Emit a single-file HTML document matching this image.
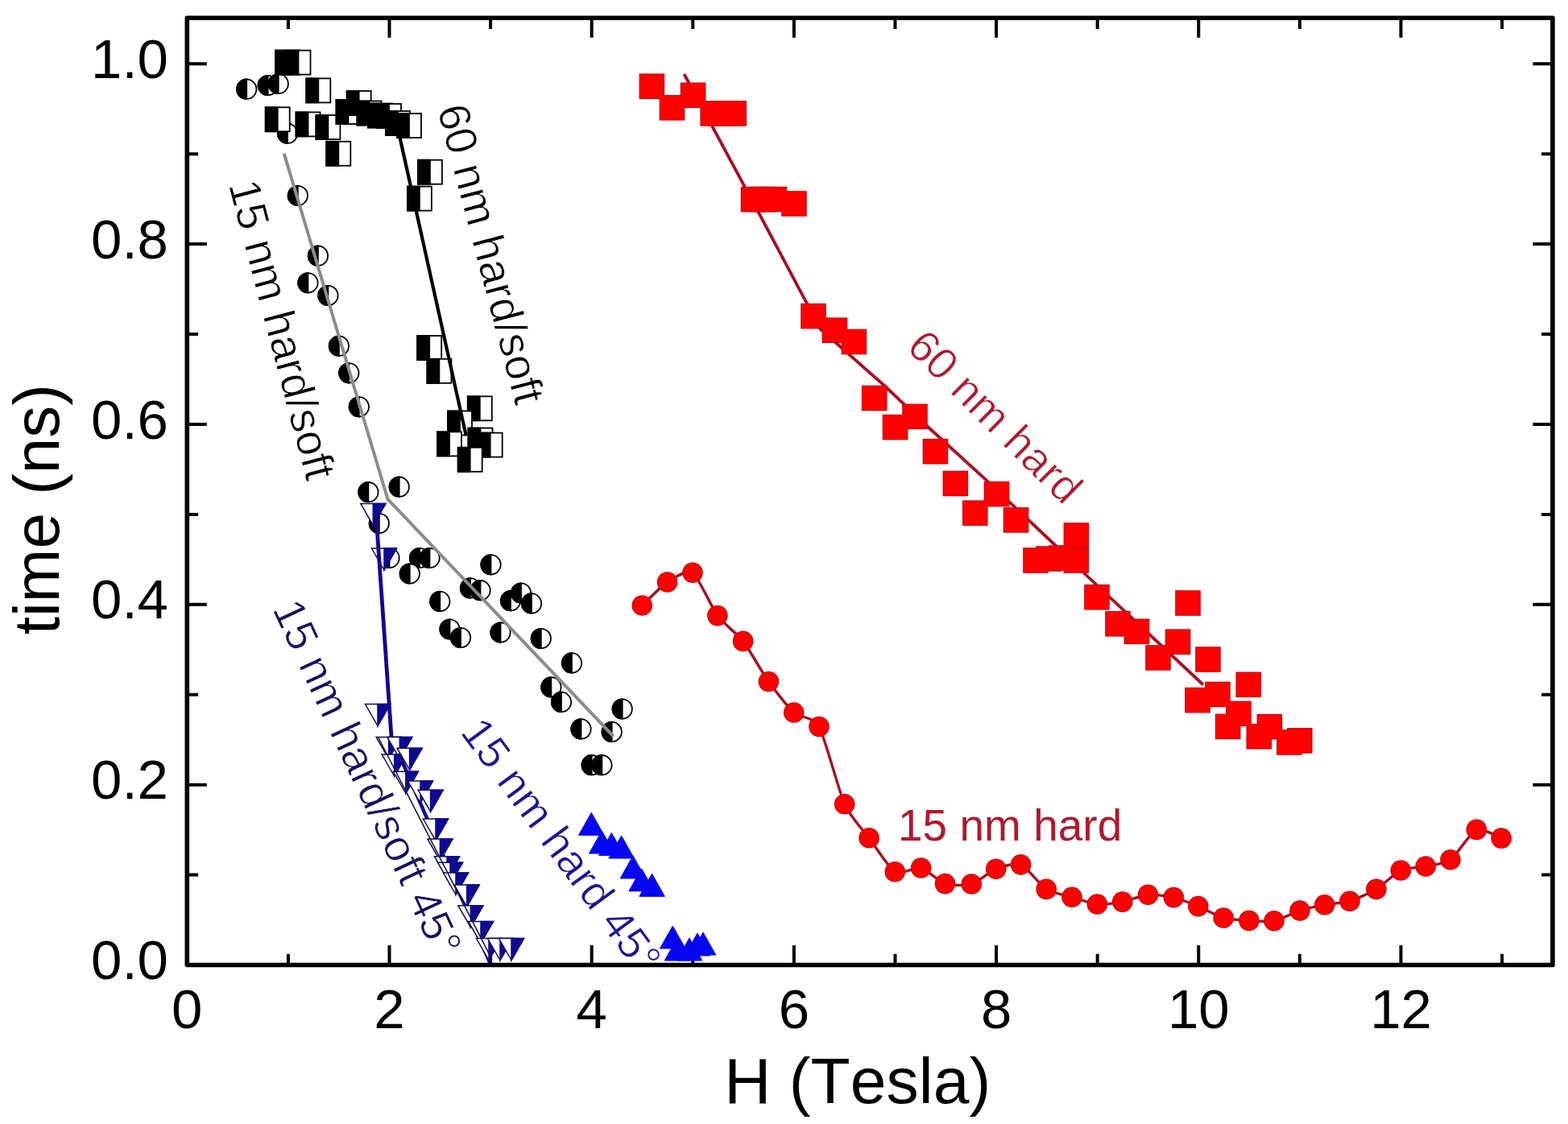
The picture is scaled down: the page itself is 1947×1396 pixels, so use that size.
<!DOCTYPE html><html><head><meta charset="utf-8"><title>time vs H</title><style>html,body{margin:0;padding:0;background:#fff;overflow:hidden}svg{display:block}text{font-kerning:none}</style></head><body>
<svg width="1947" height="1396" viewBox="0 0 1947 1396" font-family="Liberation Sans, Arial, sans-serif">
<rect width="1947" height="1396" fill="#fff"/>
<rect x="232.3" y="22.2" width="1695.6" height="1176.3" fill="none" stroke="#000" stroke-width="5.6" stroke-linejoin="round"/>
<path d="M357.9,1198.5v-13.8 M357.9,22.2v13.8 M483.5,1198.5v-24.5 M483.5,22.2v24.5 M609.1,1198.5v-13.8 M609.1,22.2v13.8 M734.7,1198.5v-24.5 M734.7,22.2v24.5 M860.3,1198.5v-13.8 M860.3,22.2v13.8 M985.9,1198.5v-24.5 M985.9,22.2v24.5 M1111.5,1198.5v-13.8 M1111.5,22.2v13.8 M1237.1,1198.5v-24.5 M1237.1,22.2v24.5 M1362.7,1198.5v-13.8 M1362.7,22.2v13.8 M1488.3,1198.5v-24.5 M1488.3,22.2v24.5 M1613.9,1198.5v-13.8 M1613.9,22.2v13.8 M1739.5,1198.5v-24.5 M1739.5,22.2v24.5 M1865.1,1198.5v-13.8 M1865.1,22.2v13.8 M232.3,1086.6h13.8 M1927.9,1086.6h-13.8 M232.3,974.7h24.5 M1927.9,974.7h-24.5 M232.3,862.7h13.8 M1927.9,862.7h-13.8 M232.3,750.8h24.5 M1927.9,750.8h-24.5 M232.3,638.9h13.8 M1927.9,638.9h-13.8 M232.3,527.0h24.5 M1927.9,527.0h-24.5 M232.3,415.1h13.8 M1927.9,415.1h-13.8 M232.3,303.1h24.5 M1927.9,303.1h-24.5 M232.3,191.2h13.8 M1927.9,191.2h-13.8 M232.3,79.3h24.5 M1927.9,79.3h-24.5" stroke="#000" stroke-width="4" fill="none"/>
<path d="M849.5,92.0 L943.3,266.5 L1001.0,375.2 L1019.0,409.0 L1055.3,441.1 L1098.2,479.0 L1152.0,530.0 L1224.5,596.2 L1309.6,676.5 L1350.0,715.5 L1494.0,850.5" fill="none" stroke="#a51025" stroke-width="3.8" stroke-linejoin="round"/>
<g fill="#c8000c">
<rect x="793.6" y="91.4" width="31.6" height="31.6"/>
<rect x="818.7" y="118.0" width="31.6" height="31.6"/>
<rect x="844.8" y="102.5" width="31.6" height="31.6"/>
<rect x="869.4" y="125.1" width="31.6" height="31.6"/>
<rect x="882.2" y="125.1" width="31.6" height="31.6"/>
<rect x="895.5" y="125.1" width="31.6" height="31.6"/>
<rect x="919.7" y="231.8" width="31.6" height="31.6"/>
<rect x="932.2" y="231.8" width="31.6" height="31.6"/>
<rect x="945.6" y="231.8" width="31.6" height="31.6"/>
<rect x="970.2" y="237.2" width="31.6" height="31.6"/>
<rect x="994.2" y="376.8" width="31.6" height="31.6"/>
<rect x="1020.6" y="394.4" width="31.6" height="31.6"/>
<rect x="1044.6" y="408.7" width="31.6" height="31.6"/>
<rect x="1069.9" y="478.7" width="31.6" height="31.6"/>
<rect x="1120.2" y="501.6" width="31.6" height="31.6"/>
<rect x="1095.8" y="514.8" width="31.6" height="31.6"/>
<rect x="1145.7" y="544.9" width="31.6" height="31.6"/>
<rect x="1170.6" y="584.7" width="31.6" height="31.6"/>
<rect x="1221.8" y="597.8" width="31.6" height="31.6"/>
<rect x="1195.0" y="621.4" width="31.6" height="31.6"/>
<rect x="1245.8" y="630.1" width="31.6" height="31.6"/>
<rect x="1320.6" y="649.2" width="31.6" height="31.6"/>
<rect x="1270.2" y="680.2" width="31.6" height="31.6"/>
<rect x="1286.2" y="678.2" width="31.6" height="31.6"/>
<rect x="1302.2" y="677.2" width="31.6" height="31.6"/>
<rect x="1320.5" y="680.2" width="31.6" height="31.6"/>
<rect x="1346.2" y="725.9" width="31.6" height="31.6"/>
<rect x="1459.2" y="733.2" width="31.6" height="31.6"/>
<rect x="1372.2" y="759.0" width="31.6" height="31.6"/>
<rect x="1395.7" y="768.5" width="31.6" height="31.6"/>
<rect x="1446.8" y="781.4" width="31.6" height="31.6"/>
<rect x="1422.2" y="801.1" width="31.6" height="31.6"/>
<rect x="1484.2" y="803.2" width="31.6" height="31.6"/>
<rect x="1534.5" y="834.5" width="31.6" height="31.6"/>
<rect x="1471.2" y="853.8" width="31.6" height="31.6"/>
<rect x="1496.2" y="846.7" width="31.6" height="31.6"/>
<rect x="1522.2" y="870.6" width="31.6" height="31.6"/>
<rect x="1508.9" y="886.6" width="31.6" height="31.6"/>
<rect x="1560.6" y="886.8" width="31.6" height="31.6"/>
<rect x="1547.5" y="898.9" width="31.6" height="31.6"/>
<rect x="1585.1" y="906.2" width="31.6" height="31.6"/>
<rect x="1598.0" y="904.1" width="31.6" height="31.6"/>
</g><g fill="#ff0000">
<rect x="794.7" y="92.5" width="29.4" height="29.4"/>
<rect x="819.8" y="119.1" width="29.4" height="29.4"/>
<rect x="845.9" y="103.6" width="29.4" height="29.4"/>
<rect x="870.5" y="126.2" width="29.4" height="29.4"/>
<rect x="883.3" y="126.2" width="29.4" height="29.4"/>
<rect x="896.6" y="126.2" width="29.4" height="29.4"/>
<rect x="920.8" y="232.9" width="29.4" height="29.4"/>
<rect x="933.3" y="232.9" width="29.4" height="29.4"/>
<rect x="946.7" y="232.9" width="29.4" height="29.4"/>
<rect x="971.3" y="238.3" width="29.4" height="29.4"/>
<rect x="995.3" y="377.9" width="29.4" height="29.4"/>
<rect x="1021.7" y="395.5" width="29.4" height="29.4"/>
<rect x="1045.7" y="409.8" width="29.4" height="29.4"/>
<rect x="1071.0" y="479.8" width="29.4" height="29.4"/>
<rect x="1121.3" y="502.7" width="29.4" height="29.4"/>
<rect x="1096.9" y="515.9" width="29.4" height="29.4"/>
<rect x="1146.8" y="546.0" width="29.4" height="29.4"/>
<rect x="1171.7" y="585.8" width="29.4" height="29.4"/>
<rect x="1222.9" y="598.9" width="29.4" height="29.4"/>
<rect x="1196.1" y="622.5" width="29.4" height="29.4"/>
<rect x="1246.9" y="631.2" width="29.4" height="29.4"/>
<rect x="1321.7" y="650.3" width="29.4" height="29.4"/>
<rect x="1271.3" y="681.3" width="29.4" height="29.4"/>
<rect x="1287.3" y="679.3" width="29.4" height="29.4"/>
<rect x="1303.3" y="678.3" width="29.4" height="29.4"/>
<rect x="1321.6" y="681.3" width="29.4" height="29.4"/>
<rect x="1347.3" y="727.0" width="29.4" height="29.4"/>
<rect x="1460.3" y="734.3" width="29.4" height="29.4"/>
<rect x="1373.3" y="760.1" width="29.4" height="29.4"/>
<rect x="1396.8" y="769.6" width="29.4" height="29.4"/>
<rect x="1447.9" y="782.5" width="29.4" height="29.4"/>
<rect x="1423.3" y="802.2" width="29.4" height="29.4"/>
<rect x="1485.3" y="804.3" width="29.4" height="29.4"/>
<rect x="1535.6" y="835.6" width="29.4" height="29.4"/>
<rect x="1472.3" y="854.9" width="29.4" height="29.4"/>
<rect x="1497.3" y="847.8" width="29.4" height="29.4"/>
<rect x="1523.3" y="871.7" width="29.4" height="29.4"/>
<rect x="1510.0" y="887.7" width="29.4" height="29.4"/>
<rect x="1561.7" y="887.9" width="29.4" height="29.4"/>
<rect x="1548.6" y="900.0" width="29.4" height="29.4"/>
<rect x="1586.2" y="907.3" width="29.4" height="29.4"/>
<rect x="1599.1" y="905.2" width="29.4" height="29.4"/>
</g>
<path d="M797.3,752.0 C800.8,748.8 821.6,727.5 828.6,723.0 C835.6,718.5 853.1,706.7 860.0,711.3 C866.9,715.9 883.9,755.1 890.9,764.6 C897.9,774.1 915.5,787.3 922.6,796.4 C929.7,805.5 947.4,836.7 954.4,846.5 C961.4,856.3 978.7,878.8 985.7,885.0 C992.7,891.2 1010.0,889.9 1017.0,902.5 C1024.0,915.1 1041.8,983.3 1048.7,998.7 C1055.6,1014.1 1072.1,1031.5 1079.1,1040.8 C1086.1,1050.1 1104.1,1078.7 1111.3,1082.8 C1118.5,1086.9 1136.7,1076.4 1143.6,1078.0 C1150.5,1079.6 1166.5,1095.4 1173.5,1097.6 C1180.5,1099.8 1199.3,1100.0 1206.3,1098.0 C1213.3,1096.0 1229.9,1081.9 1236.7,1079.2 C1243.5,1076.5 1260.7,1071.1 1267.6,1073.9 C1274.5,1076.7 1292.2,1099.9 1299.2,1104.4 C1306.2,1108.9 1324.0,1112.1 1331.0,1114.2 C1338.0,1116.3 1355.4,1122.3 1362.4,1123.0 C1369.4,1123.7 1386.7,1121.4 1393.7,1120.1 C1400.7,1118.8 1418.4,1111.8 1425.5,1111.2 C1432.6,1110.6 1450.4,1113.0 1457.3,1114.6 C1464.2,1116.2 1480.9,1122.8 1487.8,1125.6 C1494.7,1128.4 1512.2,1138.0 1519.2,1140.0 C1526.2,1142.0 1543.9,1143.0 1550.9,1143.4 C1557.9,1143.8 1575.0,1145.1 1582.0,1143.7 C1589.0,1142.3 1607.0,1133.2 1614.0,1131.0 C1621.0,1128.8 1637.9,1125.0 1644.8,1123.7 C1651.7,1122.4 1668.9,1121.3 1676.0,1119.2 C1683.1,1117.1 1701.9,1108.6 1708.9,1104.4 C1715.9,1100.2 1732.5,1084.2 1739.3,1081.0 C1746.1,1077.8 1763.3,1077.5 1770.2,1076.0 C1777.1,1074.5 1794.0,1072.9 1801.0,1067.8 C1808.0,1062.7 1826.4,1033.4 1833.4,1030.4 C1840.4,1027.4 1860.8,1039.9 1864.2,1041.1" fill="none" stroke="#a51025" stroke-width="3.4"/>
<g fill="#c8000c">
<circle cx="797.3" cy="752.0" r="12.8"/>
<circle cx="828.6" cy="723.0" r="12.8"/>
<circle cx="860.0" cy="711.3" r="12.8"/>
<circle cx="890.9" cy="764.6" r="12.8"/>
<circle cx="922.6" cy="796.4" r="12.8"/>
<circle cx="954.4" cy="846.5" r="12.8"/>
<circle cx="985.7" cy="885.0" r="12.8"/>
<circle cx="1017.0" cy="902.5" r="12.8"/>
<circle cx="1048.7" cy="998.7" r="12.8"/>
<circle cx="1079.1" cy="1040.8" r="12.8"/>
<circle cx="1111.3" cy="1082.8" r="12.8"/>
<circle cx="1143.6" cy="1078.0" r="12.8"/>
<circle cx="1173.5" cy="1097.6" r="12.8"/>
<circle cx="1206.3" cy="1098.0" r="12.8"/>
<circle cx="1236.7" cy="1079.2" r="12.8"/>
<circle cx="1267.6" cy="1073.9" r="12.8"/>
<circle cx="1299.2" cy="1104.4" r="12.8"/>
<circle cx="1331.0" cy="1114.2" r="12.8"/>
<circle cx="1362.4" cy="1123.0" r="12.8"/>
<circle cx="1393.7" cy="1120.1" r="12.8"/>
<circle cx="1425.5" cy="1111.2" r="12.8"/>
<circle cx="1457.3" cy="1114.6" r="12.8"/>
<circle cx="1487.8" cy="1125.6" r="12.8"/>
<circle cx="1519.2" cy="1140.0" r="12.8"/>
<circle cx="1550.9" cy="1143.4" r="12.8"/>
<circle cx="1582.0" cy="1143.7" r="12.8"/>
<circle cx="1614.0" cy="1131.0" r="12.8"/>
<circle cx="1644.8" cy="1123.7" r="12.8"/>
<circle cx="1676.0" cy="1119.2" r="12.8"/>
<circle cx="1708.9" cy="1104.4" r="12.8"/>
<circle cx="1739.3" cy="1081.0" r="12.8"/>
<circle cx="1770.2" cy="1076.0" r="12.8"/>
<circle cx="1801.0" cy="1067.8" r="12.8"/>
<circle cx="1833.4" cy="1030.4" r="12.8"/>
<circle cx="1864.2" cy="1041.1" r="12.8"/>
</g><g fill="#ff0000">
<circle cx="797.3" cy="752.0" r="11.7"/>
<circle cx="828.6" cy="723.0" r="11.7"/>
<circle cx="860.0" cy="711.3" r="11.7"/>
<circle cx="890.9" cy="764.6" r="11.7"/>
<circle cx="922.6" cy="796.4" r="11.7"/>
<circle cx="954.4" cy="846.5" r="11.7"/>
<circle cx="985.7" cy="885.0" r="11.7"/>
<circle cx="1017.0" cy="902.5" r="11.7"/>
<circle cx="1048.7" cy="998.7" r="11.7"/>
<circle cx="1079.1" cy="1040.8" r="11.7"/>
<circle cx="1111.3" cy="1082.8" r="11.7"/>
<circle cx="1143.6" cy="1078.0" r="11.7"/>
<circle cx="1173.5" cy="1097.6" r="11.7"/>
<circle cx="1206.3" cy="1098.0" r="11.7"/>
<circle cx="1236.7" cy="1079.2" r="11.7"/>
<circle cx="1267.6" cy="1073.9" r="11.7"/>
<circle cx="1299.2" cy="1104.4" r="11.7"/>
<circle cx="1331.0" cy="1114.2" r="11.7"/>
<circle cx="1362.4" cy="1123.0" r="11.7"/>
<circle cx="1393.7" cy="1120.1" r="11.7"/>
<circle cx="1425.5" cy="1111.2" r="11.7"/>
<circle cx="1457.3" cy="1114.6" r="11.7"/>
<circle cx="1487.8" cy="1125.6" r="11.7"/>
<circle cx="1519.2" cy="1140.0" r="11.7"/>
<circle cx="1550.9" cy="1143.4" r="11.7"/>
<circle cx="1582.0" cy="1143.7" r="11.7"/>
<circle cx="1614.0" cy="1131.0" r="11.7"/>
<circle cx="1644.8" cy="1123.7" r="11.7"/>
<circle cx="1676.0" cy="1119.2" r="11.7"/>
<circle cx="1708.9" cy="1104.4" r="11.7"/>
<circle cx="1739.3" cy="1081.0" r="11.7"/>
<circle cx="1770.2" cy="1076.0" r="11.7"/>
<circle cx="1801.0" cy="1067.8" r="11.7"/>
<circle cx="1833.4" cy="1030.4" r="11.7"/>
<circle cx="1864.2" cy="1041.1" r="11.7"/>
</g>
<g stroke="#000" stroke-width="1.8">
<circle cx="306.2" cy="110.7" r="12.2" fill="#fff"/><path d="M306.2,98.5 A12.2,12.2 0 0 0 306.2,122.9 Z" fill="#000"/>
<circle cx="332.7" cy="106.0" r="12.2" fill="#fff"/><path d="M332.7,93.8 A12.2,12.2 0 0 0 332.7,118.2 Z" fill="#000"/>
<circle cx="345.7" cy="104.0" r="12.2" fill="#fff"/><path d="M345.7,91.8 A12.2,12.2 0 0 0 345.7,116.2 Z" fill="#000"/>
<circle cx="357.0" cy="165.7" r="12.2" fill="#fff"/><path d="M357.0,153.5 A12.2,12.2 0 0 0 357.0,177.9 Z" fill="#000"/>
<circle cx="369.8" cy="243.0" r="12.2" fill="#fff"/><path d="M369.8,230.8 A12.2,12.2 0 0 0 369.8,255.2 Z" fill="#000"/>
<circle cx="394.9" cy="317.7" r="12.2" fill="#fff"/><path d="M394.9,305.5 A12.2,12.2 0 0 0 394.9,329.9 Z" fill="#000"/>
<circle cx="382.4" cy="351.3" r="12.2" fill="#fff"/><path d="M382.4,339.1 A12.2,12.2 0 0 0 382.4,363.5 Z" fill="#000"/>
<circle cx="407.4" cy="367.0" r="12.2" fill="#fff"/><path d="M407.4,354.8 A12.2,12.2 0 0 0 407.4,379.2 Z" fill="#000"/>
<circle cx="420.9" cy="429.7" r="12.2" fill="#fff"/><path d="M420.9,417.5 A12.2,12.2 0 0 0 420.9,441.9 Z" fill="#000"/>
<circle cx="433.3" cy="463.3" r="12.2" fill="#fff"/><path d="M433.3,451.1 A12.2,12.2 0 0 0 433.3,475.5 Z" fill="#000"/>
<circle cx="445.8" cy="505.3" r="12.2" fill="#fff"/><path d="M445.8,493.1 A12.2,12.2 0 0 0 445.8,517.5 Z" fill="#000"/>
<circle cx="457.4" cy="611.2" r="12.2" fill="#fff"/><path d="M457.4,599.0 A12.2,12.2 0 0 0 457.4,623.4 Z" fill="#000"/>
<circle cx="495.7" cy="604.7" r="12.2" fill="#fff"/><path d="M495.7,592.5 A12.2,12.2 0 0 0 495.7,616.9 Z" fill="#000"/>
<circle cx="470.8" cy="650.0" r="12.2" fill="#fff"/><path d="M470.8,637.8 A12.2,12.2 0 0 0 470.8,662.2 Z" fill="#000"/>
<circle cx="483.5" cy="693.0" r="12.2" fill="#fff"/><path d="M483.5,680.8 A12.2,12.2 0 0 0 483.5,705.2 Z" fill="#000"/>
<circle cx="521.0" cy="693.0" r="12.2" fill="#fff"/><path d="M521.0,680.8 A12.2,12.2 0 0 0 521.0,705.2 Z" fill="#000"/>
<circle cx="533.5" cy="693.0" r="12.2" fill="#fff"/><path d="M533.5,680.8 A12.2,12.2 0 0 0 533.5,705.2 Z" fill="#000"/>
<circle cx="508.8" cy="712.5" r="12.2" fill="#fff"/><path d="M508.8,700.3 A12.2,12.2 0 0 0 508.8,724.7 Z" fill="#000"/>
<circle cx="609.5" cy="701.3" r="12.2" fill="#fff"/><path d="M609.5,689.1 A12.2,12.2 0 0 0 609.5,713.5 Z" fill="#000"/>
<circle cx="584.0" cy="730.4" r="12.2" fill="#fff"/><path d="M584.0,718.2 A12.2,12.2 0 0 0 584.0,742.6 Z" fill="#000"/>
<circle cx="596.5" cy="733.2" r="12.2" fill="#fff"/><path d="M596.5,721.0 A12.2,12.2 0 0 0 596.5,745.4 Z" fill="#000"/>
<circle cx="546.3" cy="746.9" r="12.2" fill="#fff"/><path d="M546.3,734.7 A12.2,12.2 0 0 0 546.3,759.1 Z" fill="#000"/>
<circle cx="634.0" cy="746.2" r="12.2" fill="#fff"/><path d="M634.0,734.0 A12.2,12.2 0 0 0 634.0,758.4 Z" fill="#000"/>
<circle cx="647.0" cy="736.5" r="12.2" fill="#fff"/><path d="M647.0,724.3 A12.2,12.2 0 0 0 647.0,748.7 Z" fill="#000"/>
<circle cx="660.0" cy="749.4" r="12.2" fill="#fff"/><path d="M660.0,737.2 A12.2,12.2 0 0 0 660.0,761.6 Z" fill="#000"/>
<circle cx="558.5" cy="781.5" r="12.2" fill="#fff"/><path d="M558.5,769.3 A12.2,12.2 0 0 0 558.5,793.7 Z" fill="#000"/>
<circle cx="572.0" cy="792.0" r="12.2" fill="#fff"/><path d="M572.0,779.8 A12.2,12.2 0 0 0 572.0,804.2 Z" fill="#000"/>
<circle cx="621.5" cy="785.6" r="12.2" fill="#fff"/><path d="M621.5,773.4 A12.2,12.2 0 0 0 621.5,797.8 Z" fill="#000"/>
<circle cx="671.8" cy="793.0" r="12.2" fill="#fff"/><path d="M671.8,780.8 A12.2,12.2 0 0 0 671.8,805.2 Z" fill="#000"/>
<circle cx="710.0" cy="823.4" r="12.2" fill="#fff"/><path d="M710.0,811.2 A12.2,12.2 0 0 0 710.0,835.6 Z" fill="#000"/>
<circle cx="684.4" cy="853.4" r="12.2" fill="#fff"/><path d="M684.4,841.2 A12.2,12.2 0 0 0 684.4,865.6 Z" fill="#000"/>
<circle cx="697.0" cy="871.9" r="12.2" fill="#fff"/><path d="M697.0,859.7 A12.2,12.2 0 0 0 697.0,884.1 Z" fill="#000"/>
<circle cx="772.7" cy="880.5" r="12.2" fill="#fff"/><path d="M772.7,868.3 A12.2,12.2 0 0 0 772.7,892.7 Z" fill="#000"/>
<circle cx="721.5" cy="905.4" r="12.2" fill="#fff"/><path d="M721.5,893.2 A12.2,12.2 0 0 0 721.5,917.6 Z" fill="#000"/>
<circle cx="759.7" cy="908.9" r="12.2" fill="#fff"/><path d="M759.7,896.7 A12.2,12.2 0 0 0 759.7,921.1 Z" fill="#000"/>
<circle cx="734.7" cy="950.2" r="12.2" fill="#fff"/><path d="M734.7,938.0 A12.2,12.2 0 0 0 734.7,962.4 Z" fill="#000"/>
<circle cx="747.4" cy="950.2" r="12.2" fill="#fff"/><path d="M747.4,938.0 A12.2,12.2 0 0 0 747.4,962.4 Z" fill="#000"/>
</g>
<path d="M352.7,190.6 L481.5,620.0 L761.7,914.5" fill="none" stroke="#8c8c8c" stroke-width="4" stroke-linejoin="round"/>
<g stroke="#000" stroke-width="1.8">
<rect x="342.0" y="62.6" width="30" height="30" fill="#fff"/><rect x="342.0" y="62.6" width="15" height="30" fill="#000"/>
<rect x="355.5" y="62.6" width="30" height="30" fill="#fff"/><rect x="355.5" y="62.6" width="15" height="30" fill="#000"/>
<rect x="380.3" y="97.4" width="30" height="30" fill="#fff"/><rect x="380.3" y="97.4" width="15" height="30" fill="#000"/>
<rect x="329.7" y="133.3" width="30" height="30" fill="#fff"/><rect x="329.7" y="133.3" width="15" height="30" fill="#000"/>
<rect x="367.5" y="139.4" width="30" height="30" fill="#fff"/><rect x="367.5" y="139.4" width="15" height="30" fill="#000"/>
<rect x="392.4" y="143.0" width="30" height="30" fill="#fff"/><rect x="392.4" y="143.0" width="15" height="30" fill="#000"/>
<rect x="405.3" y="175.8" width="30" height="30" fill="#fff"/><rect x="405.3" y="175.8" width="15" height="30" fill="#000"/>
<rect x="417.5" y="124.0" width="30" height="30" fill="#fff"/><rect x="417.5" y="124.0" width="15" height="30" fill="#000"/>
<rect x="430.7" y="113.0" width="30" height="30" fill="#fff"/><rect x="430.7" y="113.0" width="15" height="30" fill="#000"/>
<rect x="443.5" y="125.5" width="30" height="30" fill="#fff"/><rect x="443.5" y="125.5" width="15" height="30" fill="#000"/>
<rect x="457.0" y="128.5" width="30" height="30" fill="#fff"/><rect x="457.0" y="128.5" width="15" height="30" fill="#000"/>
<rect x="468.0" y="129.0" width="30" height="30" fill="#fff"/><rect x="468.0" y="129.0" width="15" height="30" fill="#000"/>
<rect x="479.0" y="138.0" width="30" height="30" fill="#fff"/><rect x="479.0" y="138.0" width="15" height="30" fill="#000"/>
<rect x="493.0" y="141.0" width="30" height="30" fill="#fff"/><rect x="493.0" y="141.0" width="15" height="30" fill="#000"/>
<rect x="518.9" y="198.7" width="30" height="30" fill="#fff"/><rect x="518.9" y="198.7" width="15" height="30" fill="#000"/>
<rect x="505.9" y="231.6" width="30" height="30" fill="#fff"/><rect x="505.9" y="231.6" width="15" height="30" fill="#000"/>
<rect x="518.2" y="417.0" width="30" height="30" fill="#fff"/><rect x="518.2" y="417.0" width="15" height="30" fill="#000"/>
<rect x="530.4" y="445.8" width="30" height="30" fill="#fff"/><rect x="530.4" y="445.8" width="15" height="30" fill="#000"/>
<rect x="580.8" y="492.3" width="30" height="30" fill="#fff"/><rect x="580.8" y="492.3" width="15" height="30" fill="#000"/>
<rect x="556.0" y="510.5" width="30" height="30" fill="#fff"/><rect x="556.0" y="510.5" width="15" height="30" fill="#000"/>
<rect x="581.5" y="531.6" width="30" height="30" fill="#fff"/><rect x="581.5" y="531.6" width="15" height="30" fill="#000"/>
<rect x="593.7" y="537.6" width="30" height="30" fill="#fff"/><rect x="593.7" y="537.6" width="15" height="30" fill="#000"/>
<rect x="543.0" y="536.4" width="30" height="30" fill="#fff"/><rect x="543.0" y="536.4" width="15" height="30" fill="#000"/>
<rect x="568.7" y="555.8" width="30" height="30" fill="#fff"/><rect x="568.7" y="555.8" width="15" height="30" fill="#000"/>
</g>
<path d="M493.0,155.0 L578.5,540.0" fill="none" stroke="#000" stroke-width="4.2"/>
<path d="M486,915 L608.5,1196" fill="none" stroke="#100890" stroke-width="4.5"/>
<g stroke="#14104a" stroke-width="1.5" stroke-linejoin="miter">
<path d="M447.8,625.4 L478.8,625.4 L463.3,652.4 Z" fill="#fff"/><path d="M463.3,625.4 L478.8,625.4 L463.3,652.4 Z" fill="#100890" stroke="#100890"/>
<path d="M461.5,681.0 L492.5,681.0 L477.0,708.0 Z" fill="#fff"/><path d="M477.0,681.0 L492.5,681.0 L477.0,708.0 Z" fill="#100890" stroke="#100890"/>
<path d="M453.5,874.6 L484.5,874.6 L469.0,901.6 Z" fill="#fff"/><path d="M469.0,874.6 L484.5,874.6 L469.0,901.6 Z" fill="#100890" stroke="#100890"/>
<path d="M467.1,915.4 L498.1,915.4 L482.6,942.4 Z" fill="#fff"/><path d="M482.6,915.4 L498.1,915.4 L482.6,942.4 Z" fill="#100890" stroke="#100890"/>
<path d="M480.8,915.4 L511.8,915.4 L496.3,942.4 Z" fill="#fff"/><path d="M496.3,915.4 L511.8,915.4 L496.3,942.4 Z" fill="#100890" stroke="#100890"/>
<path d="M474.2,937.0 L505.2,937.0 L489.7,964.0 Z" fill="#fff"/><path d="M489.7,937.0 L505.2,937.0 L489.7,964.0 Z" fill="#100890" stroke="#100890"/>
<path d="M493.1,929.2 L524.1,929.2 L508.6,956.2 Z" fill="#fff"/><path d="M508.6,929.2 L524.1,929.2 L508.6,956.2 Z" fill="#100890" stroke="#100890"/>
<path d="M488.3,958.3 L519.3,958.3 L503.8,985.3 Z" fill="#fff"/><path d="M503.8,958.3 L519.3,958.3 L503.8,985.3 Z" fill="#100890" stroke="#100890"/>
<path d="M506.5,970.1 L537.5,970.1 L522.0,997.1 Z" fill="#fff"/><path d="M522.0,970.1 L537.5,970.1 L522.0,997.1 Z" fill="#100890" stroke="#100890"/>
<path d="M519.1,981.2 L550.1,981.2 L534.6,1008.2 Z" fill="#fff"/><path d="M534.6,981.2 L550.1,981.2 L534.6,1008.2 Z" fill="#100890" stroke="#100890"/>
<path d="M525.5,1017.1 L556.5,1017.1 L541.0,1044.1 Z" fill="#fff"/><path d="M541.0,1017.1 L556.5,1017.1 L541.0,1044.1 Z" fill="#100890" stroke="#100890"/>
<path d="M530.9,1041.9 L561.9,1041.9 L546.4,1068.9 Z" fill="#fff"/><path d="M546.4,1041.9 L561.9,1041.9 L546.4,1068.9 Z" fill="#100890" stroke="#100890"/>
<path d="M539.5,1063.7 L570.5,1063.7 L555.0,1090.7 Z" fill="#fff"/><path d="M555.0,1063.7 L570.5,1063.7 L555.0,1090.7 Z" fill="#100890" stroke="#100890"/>
<path d="M543.5,1071.2 L574.5,1071.2 L559.0,1098.2 Z" fill="#fff"/><path d="M559.0,1071.2 L574.5,1071.2 L559.0,1098.2 Z" fill="#100890" stroke="#100890"/>
<path d="M550.5,1084.0 L581.5,1084.0 L566.0,1111.0 Z" fill="#fff"/><path d="M566.0,1084.0 L581.5,1084.0 L566.0,1111.0 Z" fill="#100890" stroke="#100890"/>
<path d="M564.2,1099.1 L595.2,1099.1 L579.7,1126.1 Z" fill="#fff"/><path d="M579.7,1099.1 L595.2,1099.1 L579.7,1126.1 Z" fill="#100890" stroke="#100890"/>
<path d="M568.9,1124.7 L599.9,1124.7 L584.4,1151.7 Z" fill="#fff"/><path d="M584.4,1124.7 L599.9,1124.7 L584.4,1151.7 Z" fill="#100890" stroke="#100890"/>
<path d="M581.5,1144.4 L612.5,1144.4 L597.0,1171.4 Z" fill="#fff"/><path d="M597.0,1144.4 L612.5,1144.4 L597.0,1171.4 Z" fill="#100890" stroke="#100890"/>
<path d="M591.5,1165.6 L622.5,1165.6 L607.0,1192.6 Z" fill="#fff"/><path d="M607.0,1165.6 L622.5,1165.6 L607.0,1192.6 Z" fill="#100890" stroke="#100890"/>
<path d="M605.5,1165.6 L636.5,1165.6 L621.0,1192.6 Z" fill="#fff"/><path d="M621.0,1165.6 L636.5,1165.6 L621.0,1192.6 Z" fill="#100890" stroke="#100890"/>
<path d="M619.5,1165.6 L650.5,1165.6 L635.0,1192.6 Z" fill="#fff"/><path d="M635.0,1165.6 L650.5,1165.6 L635.0,1192.6 Z" fill="#100890" stroke="#100890"/>
</g>
<path d="M466,625 L486,915" fill="none" stroke="#100890" stroke-width="4.8"/>
<path d="M469.3,915 L607.9,1185.8" fill="none" stroke="#1a1650" stroke-width="1.6"/>
<g fill="#0606f2" stroke="#0606f2" stroke-width="1">
<path d="M734.3,1009.3 L750.0,1037.3 L718.5,1037.3 Z"/>
<path d="M747.3,1032.0 L763.0,1060.0 L731.5,1060.0 Z"/>
<path d="M759.4,1034.4 L775.1,1062.4 L743.6,1062.4 Z"/>
<path d="M771.6,1038.0 L787.4,1066.0 L755.9,1066.0 Z"/>
<path d="M786.0,1063.0 L801.8,1091.0 L770.2,1091.0 Z"/>
<path d="M796.6,1078.8 L812.4,1106.8 L780.9,1106.8 Z"/>
<path d="M809.6,1085.3 L825.4,1113.3 L793.9,1113.3 Z"/>
<path d="M835.3,1150.0 L851.0,1178.0 L819.5,1178.0 Z"/>
<path d="M841.0,1165.0 L856.8,1193.0 L825.2,1193.0 Z"/>
<path d="M856.0,1165.0 L871.8,1193.0 L840.2,1193.0 Z"/>
<path d="M866.0,1159.0 L881.8,1187.0 L850.2,1187.0 Z"/>
<path d="M873.0,1158.0 L888.8,1186.0 L857.2,1186.0 Z"/>
</g>
<g font-size="69" fill="#000">
<text x="232.3" y="1277" text-anchor="middle">0</text>
<text x="483.5" y="1277" text-anchor="middle">2</text>
<text x="734.7" y="1277" text-anchor="middle">4</text>
<text x="985.9" y="1277" text-anchor="middle">6</text>
<text x="1237.1" y="1277" text-anchor="middle">8</text>
<text x="1488.3" y="1277" text-anchor="middle">10</text>
<text x="1739.5" y="1277" text-anchor="middle">12</text>
<text x="209" y="1216.0" text-anchor="end">0.0</text>
<text x="209" y="992.2" text-anchor="end">0.2</text>
<text x="209" y="768.3" text-anchor="end">0.4</text>
<text x="209" y="544.5" text-anchor="end">0.6</text>
<text x="209" y="320.6" text-anchor="end">0.8</text>
<text x="209" y="96.8" text-anchor="end">1.0</text>
</g>
<text x="899.3" y="1370" font-size="80.5" fill="#000">H (Tesla)</text>
<text transform="translate(73,788.2) rotate(-90)" font-size="80" fill="#000">time (ns)</text>
<text transform="translate(542.8,135.2) rotate(75.2)" font-size="55" fill="#000" stroke="#fff" stroke-width="0.8">60 nm hard/soft</text>
<text transform="translate(283.4,229.2) rotate(75.2)" font-size="55" fill="#000" stroke="#fff" stroke-width="0.8">15 nm hard/soft</text>
<text transform="translate(337.6,756.0) rotate(65.0)" font-size="55" fill="#161060" stroke="#fff" stroke-width="0.8">15 nm hard/soft 45°</text>
<text transform="translate(570.3,909.2) rotate(53.7)" font-size="55" fill="#1c1296" stroke="#fff" stroke-width="0.8">15 nm hard 45°</text>
<text transform="translate(1123.7,432.7) rotate(44.8)" font-size="55" fill="#ad1a2e" stroke="#fff" stroke-width="0.8">60 nm hard</text>
<text x="1115" y="1043.5" font-size="55" fill="#ad1a2e">15 nm hard</text>
</svg></body></html>
